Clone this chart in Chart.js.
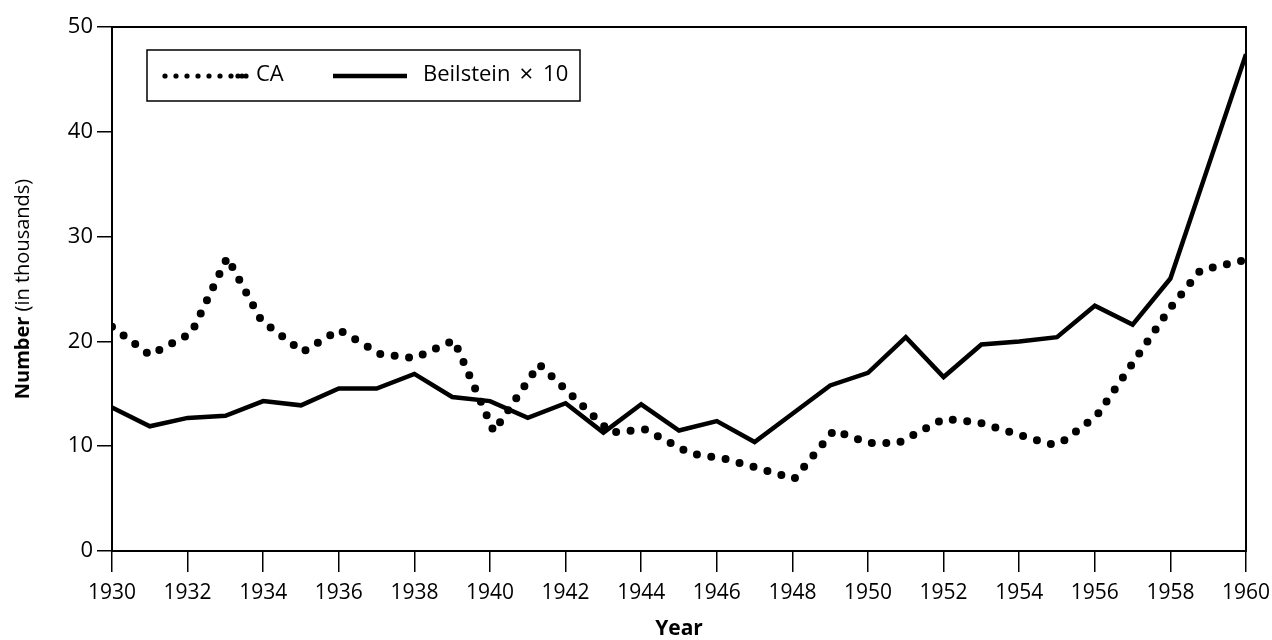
<!doctype html>
<html>
<head>
    <title>CA vs Beilstein</title>
    <script src="https://cdn.jsdelivr.net/npm/chart.js@4/dist/chart.umd.min.js"></script>
    <style>
    body { margin: 0; background: #fff; }
    </style>
</head>
<body>
    <canvas id="canvas" width="1272" height="640"></canvas>
    <script>
        // Beilstein x 10, yearly
        var beilYears = [1930, 1931, 1932, 1933, 1934, 1935, 1936, 1937, 1938, 1939, 1940,
                         1941, 1942, 1943, 1944, 1945, 1946, 1947, 1948, 1949, 1950,
                         1951, 1952, 1953, 1954, 1955, 1956, 1957, 1958, 1959, 1960];
        var beilValues = [13.7, 11.9, 12.7, 12.9, 14.3, 13.9, 15.5, 15.5, 16.9, 14.7, 14.3,
                          12.7, 14.1, 11.3, 14.0, 11.5, 12.4, 10.4, 13.1, 15.8, 17.0,
                          20.4, 16.6, 19.7, 20.0, 20.4, 23.4, 21.6, 26.0, 36.7, 47.4];

        // CA (dotted), read at the corners of the curve
        var caYears = [1930.0, 1931.0, 1932.1, 1933.05, 1933.95, 1935.05, 1936.0, 1937.1, 1938.0, 1939.05,
                       1940.1, 1941.3, 1943.2, 1944.1, 1945.3, 1946.2, 1947.0, 1948.05, 1949.1, 1950.0,
                       1950.8, 1952.0, 1952.9, 1954.8, 1955.1, 1956.05, 1958.0, 1958.8, 1959.9];
        var caValues = [21.4, 18.7, 20.8, 28.0, 22.0, 19.0, 21.1, 18.8, 18.4, 20.1,
                        11.4, 17.8, 11.3, 11.6, 9.3, 8.8, 8.0, 6.9, 11.5, 10.3,
                        10.3, 12.6, 12.3, 10.2, 10.3, 12.9, 23.2, 26.8, 27.7];

        var yTicks = [0, 10, 20, 30, 40, 50];
        var xTicks = [1930, 1932, 1934, 1936, 1938, 1940, 1942, 1944, 1946, 1948, 1950,
                      1952, 1954, 1956, 1958, 1960];

        var FONT = "'Open Sans', 'Noto Sans', sans-serif";

        function pairs(xs, ys) {
            return xs.map(function(x, i) { return {x: x, y: ys[i]}; });
        }

        var extras = {
            id: 'extras',
            afterDraw: function(chart) {
                var ctx = chart.ctx, a = chart.chartArea;
                ctx.save();
                // frame
                ctx.strokeStyle = '#000';
                ctx.lineWidth = 2;
                ctx.strokeRect(a.left, a.top, a.right - a.left, a.bottom - a.top);

                // legend box
                var lx = a.left + 35, ly = a.top + 23;
                ctx.lineWidth = 1.5;
                ctx.strokeRect(lx, ly, 433, 51);
                var cy = ly + 25;
                ctx.fillStyle = '#000';
                var dots = [0, 11, 22, 33, 44, 55, 66, 73, 77, 81];
                dots.forEach(function(d) {
                    ctx.beginPath();
                    ctx.arc(lx + 18 + d, cy + 1, 2.6, 0, Math.PI * 2);
                    ctx.fill();
                });
                ctx.font = '22px ' + FONT;
                ctx.textBaseline = 'middle';
                ctx.textAlign = 'left';
                ctx.fillText('CA', lx + 109, cy);
                ctx.lineWidth = 4.5;
                ctx.beginPath();
                ctx.moveTo(lx + 186, cy + 1);
                ctx.lineTo(lx + 260, cy + 1);
                ctx.stroke();
                // label pieces spaced out like the original
                var bx = lx + 276;
                ctx.fillText('Beilstein', bx, cy);
                bx += ctx.measureText('Beilstein').width + 9;
                ctx.font = '24px ' + FONT;
                ctx.fillText('\u00d7', bx, cy);
                bx += ctx.measureText('\u00d7').width + 10;
                ctx.font = '22px ' + FONT;
                ctx.fillText('10', bx, cy);

                // y axis title, bold + regular
                var t1 = 'Number', t2 = ' (in thousands)';
                ctx.translate(23, (a.top + a.bottom) / 2);
                ctx.rotate(-Math.PI / 2);
                ctx.font = 'bold 20px ' + FONT;
                var w1 = ctx.measureText(t1).width;
                ctx.font = '20px ' + FONT;
                var w2 = ctx.measureText(t2).width;
                var sx = -(w1 + w2) / 2;
                ctx.font = 'bold 20px ' + FONT;
                ctx.fillText(t1, sx, 0);
                ctx.font = '20px ' + FONT;
                ctx.fillText(t2, sx + w1, 0);
                ctx.restore();
            }
        };

        window.onload = function() {
            var ctx = document.getElementById('canvas').getContext('2d');
            window.myChart = new Chart(ctx, {
                type: 'line',
                data: {
                    datasets: [{
                        label: 'CA',
                        data: pairs(caYears, caValues),
                        borderColor: '#000',
                        borderWidth: 8,
                        borderDash: [0, 14.5],
                        borderCapStyle: 'round',
                        pointRadius: 0,
                        tension: 0,
                        fill: false
                    }, {
                        label: 'Beilstein \u00d7 10',
                        data: pairs(beilYears, beilValues),
                        borderColor: '#000',
                        borderWidth: 4.5,
                        pointRadius: 0,
                        tension: 0,
                        fill: false
                    }]
                },
                options: {
                    responsive: false,
                    animation: false,
                    layout: { padding: { top: 27, right: 26, left: 0, bottom: 0 } },
                    plugins: {
                        legend: { display: false },
                        tooltip: { enabled: false }
                    },
                    scales: {
                        x: {
                            type: 'linear',
                            min: 1930,
                            max: 1960,
                            afterFit: function(scale) {
                                scale.height = 89;
                                scale.paddingLeft = 0;
                                scale.paddingRight = 0;
                            },
                            afterBuildTicks: function(scale) {
                                scale.ticks = xTicks.map(function(v) { return {value: v}; });
                            },
                            ticks: {
                                color: '#000',
                                font: { family: FONT, size: 21 },
                                padding: 8,
                                maxRotation: 0,
                                callback: function(v) { return String(v); }
                            },
                            grid: { drawOnChartArea: false, drawTicks: true, tickLength: 21, color: '#000', lineWidth: 1.5 },
                            border: { display: true, color: '#000', width: 2 },
                            title: {
                                display: true,
                                text: 'Year',
                                color: '#000',
                                font: { family: FONT, size: 21, weight: 'bold', lineHeight: 1.0 },
                                padding: { top: 0, bottom: 0 }
                            }
                        },
                        y: {
                            min: 0,
                            max: 50,
                            afterFit: function(scale) {
                                scale.width = 112;
                                scale.paddingTop = 0;
                                scale.paddingBottom = 0;
                            },
                            afterBuildTicks: function(scale) {
                                scale.ticks = yTicks.map(function(v) { return {value: v}; });
                            },
                            ticks: {
                                color: '#000',
                                font: { family: FONT, size: 22 },
                                padding: 4
                            },
                            grid: { drawOnChartArea: false, drawTicks: true, tickLength: 15, color: '#000', lineWidth: 1.5 },
                            border: { display: true, color: '#000', width: 2 }
                        }
                    }
                },
                plugins: [extras]
            });
        };
    </script>
</body>
</html>
